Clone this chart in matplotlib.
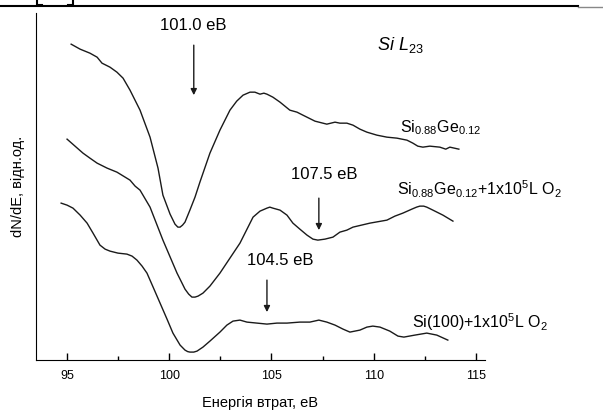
import numpy as np
import matplotlib
matplotlib.use("Agg")
import matplotlib.pyplot as plt
from matplotlib.lines import Line2D
from matplotlib.ticker import MultipleLocator

plt.rcParams['font.family'] = ['Liberation Sans', 'DejaVu Sans']
plt.rcParams['mathtext.fontset'] = 'custom'
plt.rcParams['mathtext.rm'] = 'Liberation Sans'
plt.rcParams['mathtext.it'] = 'Liberation Sans:italic'

# Si0.88Ge0.12
e1 = [95.20, 95.64, 96.12, 96.47, 96.71, 97.10, 97.44, 97.74, 98.08, 98.57,
      99.06, 99.45, 99.69, 100.04, 100.28, 100.42, 100.53, 100.65, 100.77, 101.01,
      101.26, 101.50, 101.99, 102.48, 102.97, 103.30, 103.61, 103.95, 104.19, 104.44,
      104.63, 104.78, 105.07, 105.42, 105.90, 106.25, 106.54, 107.13, 107.71, 108.11,
      108.35, 108.69, 108.99, 109.33, 109.67, 110.16, 110.65, 111.14, 111.63, 111.92,
      112.16, 112.41, 112.75, 113.24, 113.53, 113.73, 114.17]
s1 = [316, 311, 307, 303, 297, 293, 288, 282, 270, 250,
      223, 192, 165, 146, 136, 133, 133, 135, 138, 150,
      163, 178, 207, 230, 250, 259, 265, 268, 268, 266,
      267, 266, 263, 258, 250, 248, 245, 239, 236, 238,
      237, 237, 235, 231, 228, 225, 223, 222, 220, 217,
      214, 213, 214, 213, 211, 213, 211]

# Si0.88Ge0.12 + 1x10^5 L O2
e2 = [95.00, 95.39, 95.78, 96.12, 96.47, 96.96, 97.44, 97.84, 98.08, 98.33,
      98.57, 99.06, 99.69, 100.38, 100.60, 100.77, 100.95, 101.11, 101.26, 101.41,
      101.65, 101.99, 102.48, 102.97, 103.46, 104.10, 104.44, 104.78, 104.92, 105.07,
      105.42, 105.76, 106.05, 106.39, 106.74, 107.03, 107.27, 107.62, 108.01, 108.35,
      108.69, 108.99, 109.82, 110.65, 111.04, 111.43, 111.87, 112.10, 112.26, 112.45,
      112.60, 112.90, 113.39, 113.88]
s2 = [221, 214, 207, 202, 197, 192, 188, 183, 180, 174,
      170, 153, 120, 87, 78, 71, 66, 63, 63, 64,
      67, 74, 87, 102, 117, 143, 149, 152, 153, 152,
      150, 145, 137, 131, 125, 121, 120, 121, 123, 128,
      130, 133, 137, 140, 144, 147, 151, 153, 154, 154,
      153, 150, 145, 139]

# Si(100) + 1x10^5 L O2
e3 = [94.71, 95.00, 95.29, 95.64, 95.98, 96.27, 96.61, 96.86, 97.10, 97.49,
      97.93, 98.18, 98.42, 98.67, 98.91, 99.21, 99.55, 99.89, 100.18, 100.53,
      100.77, 100.90, 101.01, 101.20, 101.36, 101.65, 101.99, 102.48, 102.82, 103.12,
      103.46, 103.80, 104.29, 104.78, 105.27, 105.76, 106.39, 106.88, 107.32, 107.71,
      108.11, 108.50, 108.84, 109.33, 109.67, 109.96, 110.31, 110.79, 111.19, 111.48,
      112.02, 112.60, 113.09, 113.63]
s3 = [157, 155, 152, 145, 137, 127, 115, 111, 109, 107,
      106, 104, 100, 94, 87, 73, 57, 41, 27, 15,
      10, 8.5, 8, 8, 9, 13, 19, 28, 35, 39,
      40, 38, 37, 36, 37, 37, 38, 38, 40, 38,
      35, 31, 28, 30, 33, 34, 33, 29, 24, 23,
      25, 27, 25, 20]

fig = plt.figure(figsize=(6.03, 4.12), dpi=100)
ax = fig.add_axes([0.0597, 0.126, 0.7443, 0.842])

for e, s in ((e1, s1), (e2, s2), (e3, s3)):
    ax.plot(e, s, color='#1a1a1a', lw=1.0, solid_joinstyle='round')

ax.set_xlim(93.48, 115.44)
ax.set_ylim(0, 347)

ax.spines['top'].set_visible(False)
ax.spines['right'].set_visible(False)
ax.set_yticks([])
ax.xaxis.set_major_locator(MultipleLocator(5))
ax.xaxis.set_minor_locator(MultipleLocator(2.5))
ax.tick_params(axis='x', which='major', direction='in', length=5, width=1, labelsize=9, pad=7)
ax.tick_params(axis='x', which='minor', direction='in', length=3, width=1)
ax.set_xlabel('Енергія втрат, еВ', fontsize=10.5, labelpad=10)
ax.set_ylabel('dN/dE, відн.од.', fontsize=10.5, labelpad=8)

arrows = [(101.2, 315, 265, '101.0 eB', 101.16, 327),
          (107.32, 162, 130, '107.5 eB', 107.57, 178),
          (104.78, 80, 48, '104.5 eB', 105.42, 92)]
for x, y0, y1, txt, tx, ty in arrows:
    ax.annotate('', xy=(x, y1), xytext=(x, y0),
                arrowprops=dict(arrowstyle='-|>', color='#1a1a1a', lw=1,
                                mutation_scale=9, shrinkA=0, shrinkB=0))
    ax.text(tx, ty, txt, fontsize=12, ha='center', va='bottom')

ax.text(110.16, 310, r'$\mathit{Si\ L}_{\mathit{23}}$', fontsize=13, va='baseline')
ax.text(111.28, 228, r'$\mathrm{Si}_{0.88}\mathrm{Ge}_{0.12}$', fontsize=11.5, va='baseline')
ax.text(111.14, 165, r'$\mathrm{Si}_{0.88}\mathrm{Ge}_{0.12}\mathrm{{+}1x10^{5}L\ O_{2}}$',
        fontsize=11.5, va='baseline')
ax.text(111.87, 32, r'$\mathrm{Si(100){+}1x10^{5}L\ O_{2}}$', fontsize=11.5, va='baseline')

# page border remnants at the top
fig.add_artist(Line2D([0, 0.958], [0.985, 0.985], color='black', lw=1.5))
fig.add_artist(Line2D([0.958, 1], [0.983, 0.983], color='#888888', lw=1))
fig.add_artist(Line2D([0.062, 0.062, 0.07], [1, 0.988, 0.988], color='black', lw=1.5))
fig.add_artist(Line2D([0.112, 0.121, 0.121], [0.988, 0.988, 1], color='black', lw=1.5))

fig.savefig('out.png', dpi=100)
